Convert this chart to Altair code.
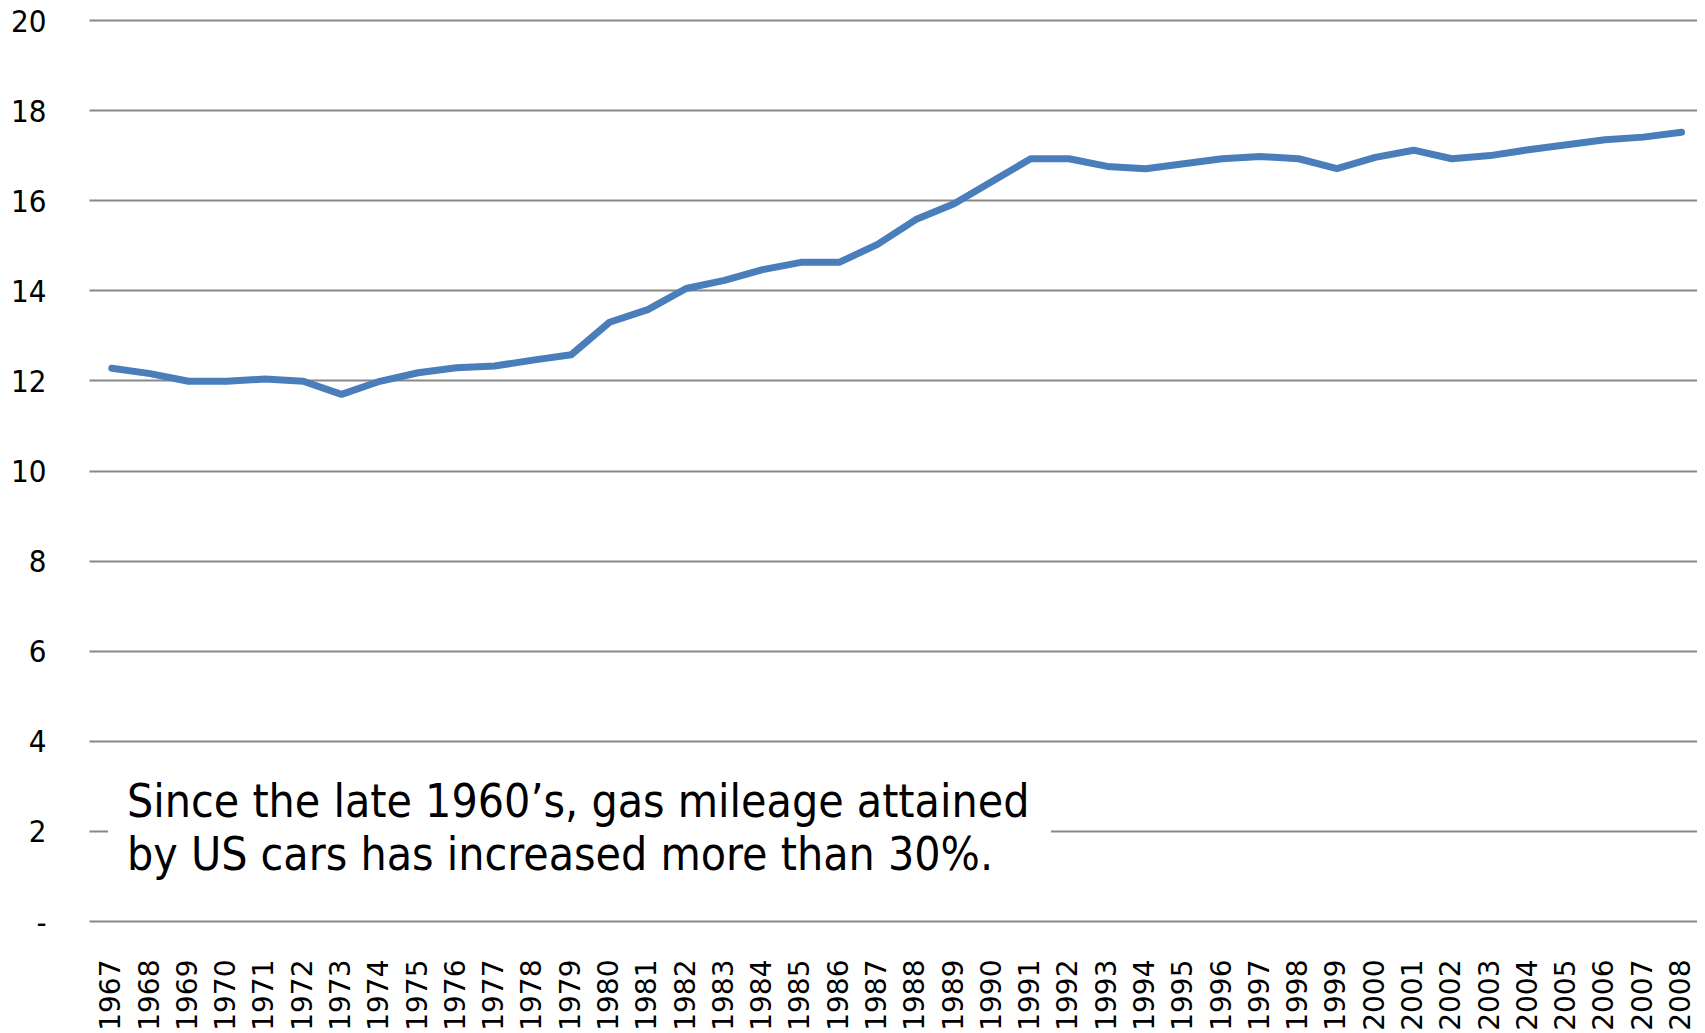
import altair as alt
import pandas as pd

years = [str(y) for y in range(1967, 2009)]
mpg = [12.27, 12.15, 11.98, 11.98, 12.03, 11.98, 11.69, 11.98, 12.17, 12.28,
       12.32, 12.45, 12.57, 13.29, 13.57, 14.04, 14.22, 14.46, 14.62, 14.62,
       15.02, 15.57, 15.92, 16.42, 16.92, 16.92, 16.75, 16.70, 16.81, 16.92,
       16.97, 16.92, 16.70, 16.95, 17.11, 16.92, 16.99, 17.12, 17.23, 17.34,
       17.40, 17.51]
y_ticks = [0, 2, 4, 6, 8, 10, 12, 14, 16, 18, 20]
note_lines = ["Since the late 1960\u2019s, gas mileage attained",
              "by US cars has increased more than 30%."]

df = pd.DataFrame({"Year": years, "MPG": mpg})

yscale = alt.Scale(domain=[0, 20], nice=False, zero=True)

line = alt.Chart(df).mark_line(
    color="#4a7ebb", strokeWidth=7, strokeCap="round", strokeJoin="round"
).encode(
    x=alt.X("Year:O", title=None, sort=years,
            scale=alt.Scale(type="point", paddingOuter=0.415, align=0.596),
            axis=alt.Axis(labelAngle=270, labelFont="DejaVu Sans", labelFontSize=28,
                          labelColor="#000000", labelPadding=38, ticks=False, tickSize=0,
                          domain=False, labelOverlap=False, grid=False)),
    y=alt.Y("MPG:Q", title=None, scale=yscale,
            axis=alt.Axis(values=y_ticks, labelExpr="datum.value == 0 ? '-' : datum.label",
                          labelFont="DejaVu Sans Condensed", labelFontSize=31,
                          labelColor="#000000", labelPadding=43, labelOffset=2,
                          ticks=False, tickSize=0,
                          domain=False, grid=True, gridColor="#888888", gridWidth=2)),
)

box = alt.Chart(pd.DataFrame({"a": [0]})).mark_rect(color="white").encode(
    x=alt.value(19), x2=alt.value(962),
    y=alt.datum(3.3, scale=yscale), y2=alt.datum(0.9),
)

note = alt.Chart(pd.DataFrame({"t": [note_lines]})).mark_text(
    align="left", baseline="alphabetic", font="DejaVu Sans Condensed",
    fontSize=46, lineHeight=53, color="#000000"
).encode(
    x=alt.value(38),
    y=alt.datum(2.315, scale=yscale),
    text="t",
)

chart = alt.layer(line, box, note).properties(
    width=1608, height=901,
    autosize=alt.AutoSizeParams(type="none"),
    padding={"left": 81, "top": 12, "right": 0, "bottom": 110},
).configure(background="white").configure_view(stroke=None, strokeWidth=0)

chart.save("out.html", embed_options={"renderer": "svg", "actions": False})
